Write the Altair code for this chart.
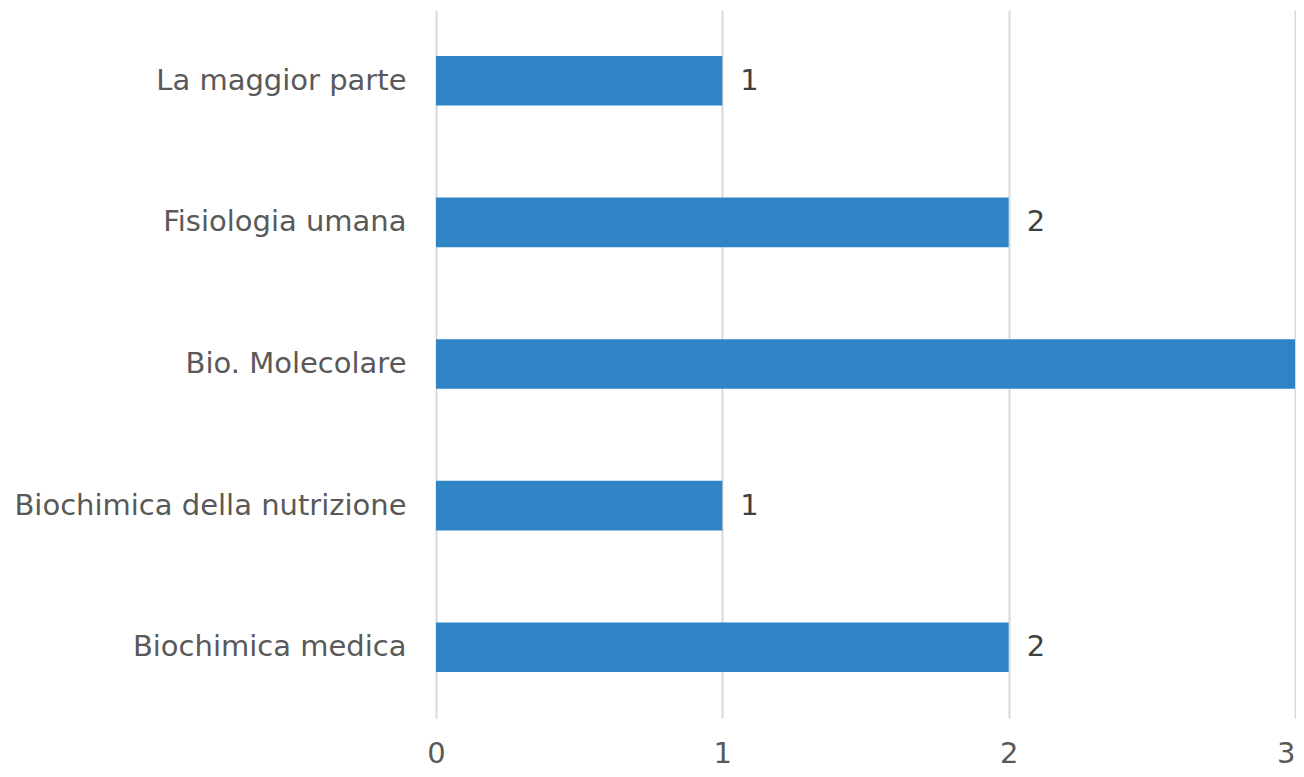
import altair as alt
import pandas as pd

categories = ["La maggior parte", "Fisiologia umana", "Bio. Molecolare",
              "Biochimica della nutrizione", "Biochimica medica"]
values = [1, 2, 3, 1, 2]

df = pd.DataFrame({"cat": categories, "val": values})

FONT = "DejaVu Sans"
FS = 29
XMAX = 3

y = alt.Y("cat:N", sort=categories, title=None,
          scale=alt.Scale(paddingInner=0.65, paddingOuter=0.325),
          axis=alt.Axis(labelFont=FONT, labelFontSize=FS, labelColor="#595959",
                        labelPadding=30, ticks=False, domain=False, grid=False,
                        labelLimit=500))
x = alt.X("val:Q", title=None, scale=alt.Scale(domain=[0, XMAX], nice=False),
          axis=alt.Axis(values=[0, 1, 2, 3], format="d", labelFont=FONT, labelFontSize=FS,
                        labelColor="#595959", labelPadding=21, ticks=False,
                        labelAlign=alt.expr("datum.value == 3 ? 'right' : 'center'"),
                        labelFlush=False,
                        domain=False, grid=True, gridColor="#d9d9d9", gridWidth=2))

bars = alt.Chart(df).mark_bar(color="#2E84C4").encode(x=x, y=y)
# the label of the bar that reaches the right edge falls outside the chart in the reference
labels = alt.Chart(df).transform_filter(f"datum.val < {XMAX}").mark_text(
    align="left", baseline="middle", dx=18,
    font=FONT, fontSize=FS, color="#404040").encode(
    x="val:Q", y=alt.Y("cat:N", sort=categories), text="val:Q")

chart = (bars + labels).properties(
    width=859, height=708,
    autosize=alt.AutoSizeParams(type="none"),
    padding={"left": 428, "top": 2, "right": 1, "bottom": 51},
).configure_view(stroke=None)

chart.save("out.html", embed_options={"renderer": "svg", "actions": False})
